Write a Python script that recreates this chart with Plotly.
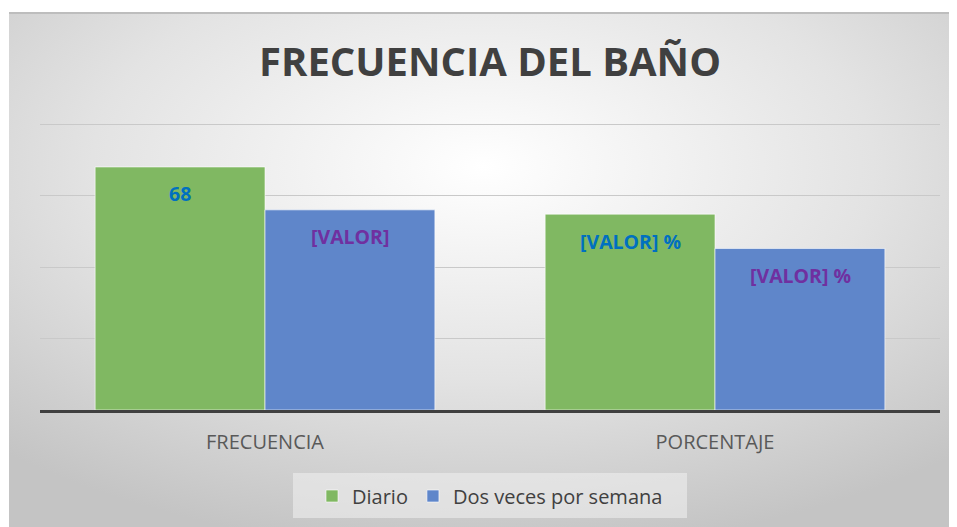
import base64
import plotly.graph_objects as go

categories = ["FRECUENCIA", "PORCENTAJE"]
diario = [68, 54.8]
dos_veces = [56, 45.2]
diario_labels = ["68", "[VALOR] %"]
dos_veces_labels = ["[VALOR]", "[VALOR] %"]
series_names = ["Diario", "Dos veces por semana"]

# page body has an 8px margin; figure coordinates are offset by it
OFF = 8
W, H = 957 - OFF, 527 - OFF
ML, MR, MT, MB = 40 - OFF, 17, 123 - OFF, 117
PW, PH = W - ML - MR, H - MT - MB

green = "#80B862"
blue = "#5F86CA"

fig = go.Figure()
fig.add_trace(go.Bar(name=series_names[0], x=categories, y=diario,
                     marker=dict(color=green, line=dict(color="rgba(255,255,255,0.6)", width=1))))
fig.add_trace(go.Bar(name=series_names[1], x=categories, y=dos_veces,
                     marker=dict(color=blue, line=dict(color="rgba(255,255,255,0.6)", width=1))))

# data labels
for cat, v, t in zip(categories, diario, diario_labels):
    fig.add_annotation(x=cat, y=v, text=f"<b>{t}</b>", showarrow=False, xshift=-85, yshift=-27,
                       font=dict(family="Open Sans", size=19.5, color="#0070C0"))
for cat, v, t in zip(categories, dos_veces, dos_veces_labels):
    fig.add_annotation(x=cat, y=v, text=f"<b>{t}</b>", showarrow=False, xshift=85, yshift=-27,
                       font=dict(family="Open Sans", size=19.5, color="#7030A0"))

def px_x(p):
    return (p - OFF - ML) / PW

def px_y(p):
    return (H - MB - (p - OFF)) / PH

# gradient background via svg image
svg = '''<svg xmlns="http://www.w3.org/2000/svg" width="948" height="515" viewBox="0 0 948 515" preserveAspectRatio="none">
<defs><radialGradient id="g" cx="50%" cy="30%" r="75%" fx="50%" fy="30%">
<stop offset="0" stop-color="#ffffff"/><stop offset="0.55" stop-color="#e3e3e3"/><stop offset="1" stop-color="#c4c4c4"/></radialGradient></defs>
<rect x="0" y="0" width="948" height="515" fill="url(#g)"/>
<rect x="0" y="0" width="948" height="2" fill="#bdbdbd"/>
</svg>'''
src = "data:image/svg+xml;base64," + base64.b64encode(svg.encode()).decode()
fig.add_layout_image(dict(source=src, xref="paper", yref="paper",
                          x=px_x(9), y=px_y(12),
                          sizex=(957 - 9) / PW, sizey=(527 - 12) / PH,
                          sizing="stretch", xanchor="left", yanchor="top", layer="below"))

# legend box
fig.add_shape(type="rect", xref="paper", yref="paper",
              x0=px_x(293), x1=px_x(687), y0=px_y(518), y1=px_y(473),
              fillcolor="rgba(238,238,238,0.6)", line=dict(width=0), layer="below")

fig.update_layout(
    width=W, height=H,
    margin=dict(l=ML, r=MR, t=MT, b=MB),
    paper_bgcolor="white", plot_bgcolor="rgba(0,0,0,0)",
    barmode="group", bargap=0.245, bargroupgap=0,
    title=dict(text="<b>FRECUENCIA DEL BAÑO</b>", x=(490 - OFF) / W, xref="container", xanchor="center",
               y=1 - (62 - OFF) / H, yref="container", yanchor="middle",
               font=dict(family="Open Sans", size=40, color="#404040")),
    legend=dict(orientation="h", x=px_x(490), xanchor="center", y=px_y(496), yanchor="middle",
                bgcolor="rgba(0,0,0,0)", font=dict(family="Open Sans", size=20, color="#404040"),
                itemwidth=30, traceorder="normal"),
    showlegend=True,
)
fig.update_xaxes(showline=True, linecolor="#404040", linewidth=3, ticks="", ticklabelstandoff=12,
                 tickfont=dict(family="Open Sans", size=20, color="#595959"))
fig.update_yaxes(range=[0, 80.3], tickvals=[0, 20, 40, 60, 80], showticklabels=False,
                 gridcolor="#c9c9c9", gridwidth=1, zeroline=False)

fig.write_html("out.html")
